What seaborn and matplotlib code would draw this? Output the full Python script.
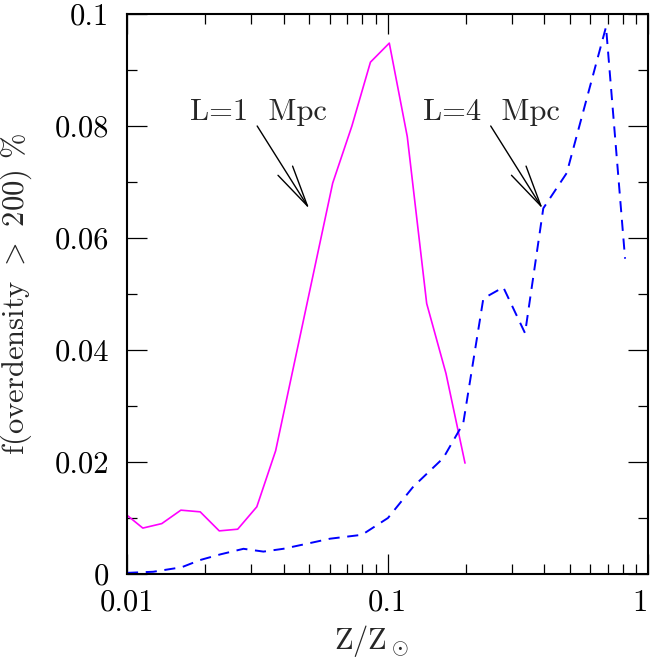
import numpy as np
import pandas as pd
import matplotlib
matplotlib.use("Agg")
import matplotlib.pyplot as plt
import seaborn as sns

# ---- data ----
x_L1 = [0.0100, 0.0115, 0.0136, 0.0161, 0.0191, 0.0226, 0.0266, 0.0315, 0.0372,
        0.0510, 0.0616, 0.0730, 0.0860, 0.1016, 0.1191, 0.1414, 0.1677, 0.1984]
y_L1 = [0.0105, 0.0082, 0.0090, 0.0114, 0.0111, 0.0077, 0.0080, 0.0120, 0.0220,
        0.0519, 0.0698, 0.0800, 0.0914, 0.0948, 0.0781, 0.0483, 0.0358, 0.0198]

x_L4 = [0.0100, 0.0126, 0.0162, 0.0191, 0.0228, 0.0280, 0.0334, 0.0398, 0.0490,
        0.0601, 0.0798, 0.1004, 0.1256, 0.1637, 0.1953, 0.2333, 0.2783, 0.3373,
        0.3963, 0.4875, 0.6900, 0.8166]
y_L4 = [0.0002, 0.0004, 0.0012, 0.0025, 0.0035, 0.0045, 0.0040, 0.0045, 0.0054,
        0.0063, 0.0070, 0.0100, 0.0156, 0.0207, 0.0269, 0.0492, 0.0512, 0.0430,
        0.0653, 0.0716, 0.0977, 0.0563]

xtick_vals = [0.01, 0.1, 1]
xtick_labels = ["0.01", "0.1", "1"]
ytick_vals = [0, 0.02, 0.04, 0.06, 0.08, 0.1]
ytick_labels = ["0", "0.02", "0.04", "0.06", "0.08", "0.1"]

labels = ["L=1  Mpc", "L=4  Mpc"]
label_pos = [(0.01745, 0.0811), (0.1365, 0.0811)]
arrow_start = [(0.0316, 0.0800), (0.2490, 0.0800)]
arrow_end = [(0.0501, 0.0652), (0.3944, 0.0652)]

# ---- style ----
sns.set_style("ticks")
plt.rcParams["font.family"] = ["cmr10", "DejaVu Serif"]
plt.rcParams["mathtext.fontset"] = "cm"
plt.rcParams["axes.formatter.use_mathtext"] = True
plt.rcParams["lines.scale_dashes"] = False

FS = 22

fig = plt.figure(figsize=(6.52, 6.58), dpi=100)
ax = fig.add_axes([127 / 652, 84 / 658, 521 / 652, 560 / 658])

df1 = pd.DataFrame({"Z": x_L1, "f": y_L1})
df4 = pd.DataFrame({"Z": x_L4, "f": y_L4})

sns.lineplot(data=df1, x="Z", y="f", ax=ax, color="#ff00ff", lw=1.2,
             estimator=None, sort=False)
sns.lineplot(data=df4, x="Z", y="f", ax=ax, color="#0000ff", lw=1.4,
             estimator=None, sort=False, linestyle=(0, (8, 5.5)))

ax.set_xscale("log")
ax.set_xlim(0.01, 1)
ax.set_ylim(0, 0.1)

ax.set_xticks(xtick_vals)
ax.set_xticklabels(xtick_labels)
ax.set_yticks(ytick_vals)
ax.set_yticklabels(ytick_labels)
ax.yaxis.set_minor_locator(matplotlib.ticker.MultipleLocator(0.01))
ax.xaxis.set_minor_locator(matplotlib.ticker.LogLocator(base=10, subs=np.arange(2, 10)))
ax.xaxis.set_minor_formatter(matplotlib.ticker.NullFormatter())

ax.tick_params(which="both", direction="in", top=True, right=True,
               colors="black", labelsize=FS)
ax.tick_params(which="major", length=14.4, width=0.9)
ax.tick_params(which="minor", length=7.2, width=0.9)
ax.tick_params(axis="y", which="major", pad=13)
ax.tick_params(axis="x", which="major", pad=11)

# keep the last x label inside the figure edge
ax.get_xticklabels()[-1].set_horizontalalignment("right")

for s in ax.spines.values():
    s.set_linewidth(1.5)
    s.set_color("black")

ax.set_xlabel(r"$\mathrm{Z/Z_\odot}$", fontsize=FS)
ax.set_ylabel(r"f(overdensity $>$ 200) %", fontsize=FS)
ax.xaxis.set_label_coords(0.470, -0.0875)
ax.yaxis.set_label_coords(-0.178, 0.5)

for lab, (tx, ty), st, en in zip(labels, label_pos, arrow_start, arrow_end):
    ax.text(tx, ty, lab, fontsize=FS, ha="left", va="baseline")
    ax.annotate("", xy=en, xytext=st,
                arrowprops=dict(arrowstyle="->,head_length=3.0,head_width=0.62",
                                mutation_scale=10, lw=1.0, color="black",
                                shrinkA=0, shrinkB=0))

fig.savefig("out.png", dpi=100)
